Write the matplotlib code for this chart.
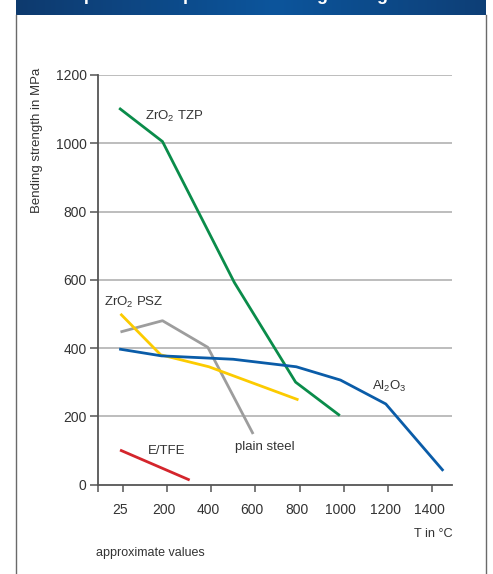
import matplotlib
matplotlib.use("Agg")
import matplotlib.pyplot as plt
import matplotlib.transforms as mtransforms
import numpy as np

plt.rcParams['font.family'] = ['Liberation Sans', 'DejaVu Sans']
plt.rcParams['mathtext.default'] = 'regular'

# ---- data (x in chart position units; the "25" tick sits at position 0) ----
tick_pos = [0, 200, 400, 600, 800, 1000, 1200, 1400]
tick_labels = ["25", "200", "400", "600", "800", "1000", "1200", "1400"]
y_ticks = [0, 200, 400, 600, 800, 1000, 1200]

tzp_x = [-16, 180, 505, 782, 982]
tzp_y = [1103, 1005, 592, 300, 202]

al_x = [-16, 175, 500, 785, 985, 1190, 1450]
al_y = [397, 377, 367, 345, 306, 236, 40]

psz_x = [-10, 172, 390, 795]
psz_y = [500, 380, 345, 248]

steel_x = [-10, 180, 385, 590]
steel_y = [447, 480, 402, 148]

etfe_x = [-12, 303]
etfe_y = [101, 13]

W, H = 493, 574
fig = plt.figure(figsize=(W / 100, H / 100), dpi=100)

# header bar with gradient
hx0, hx1, hh = 16, 486, 15
hax = fig.add_axes([hx0 / W, 1 - hh / H, (hx1 - hx0) / W, hh / H])
grad = np.linspace(0, 1, 256)
c_dark = np.array([0x0e, 0x3a, 0x6e]) / 255
c_light = np.array([0x0c, 0x55, 0x9c]) / 255
w = 1 - np.abs(grad - 0.55) / 0.55
w = np.clip(w, 0, 1)
img = c_dark[None, :] * (1 - w[:, None]) + c_light[None, :] * w[:, None]
hax.imshow(img[None, :, :], aspect='auto', extent=[0, 1, 0, 1])
hax.set_axis_off()
fig.text(48 / W, 1 - 0.5 / H, "Temperature-dependent bending strength", color='white',
         fontsize=13, fontweight='bold', va='baseline', ha='left')

# frame lines
for xp in (hx0, hx1):
    fig.add_artist(plt.Line2D([xp / W, xp / W], [0, 1 - hh / H], color='#6a6a6a', lw=1.0,
                              transform=fig.transFigure))

# main axes
left, right = 97.7, 451.7
top, bottom = 75.0, 484.5
ax = fig.add_axes([left / W, 1 - bottom / H, (right - left) / W, (bottom - top) / H])
ax.set_xlim(-113, 1488)
ax.set_ylim(0, 1200)

for yv in y_ticks[1:]:
    ax.axhline(yv, color='#bdbdbd', lw=1.4, zorder=1)

lw = 2.0
ax.plot(tzp_x, tzp_y, color='#0a8c4a', lw=lw, zorder=3, solid_capstyle='butt')
ax.plot(steel_x, steel_y, color='#9d9d9d', lw=lw, zorder=3, solid_capstyle='butt')
ax.plot(psz_x, psz_y, color='#fccb00', lw=lw, zorder=3, solid_capstyle='butt')
ax.plot(al_x, al_y, color='#0a5ca8', lw=lw, zorder=4, solid_capstyle='butt')
ax.plot(etfe_x, etfe_y, color='#d4252c', lw=lw, zorder=3, solid_capstyle='butt')

tc = '#333333'
fs = 9.5
ax.text(101, 1078, r"ZrO$_2$ TZP", color=tc, fontsize=fs, va='center', ha='left')
ax.text(-85, 533, r"ZrO$_2$ PSZ", color=tc, fontsize=fs, va='center', ha='left')
ax.text(114, 99, "E/TFE", color=tc, fontsize=fs, va='center', ha='left')
ax.text(508, 111, "plain steel", color=tc, fontsize=fs, va='center', ha='left')
ax.text(1127, 287, r"Al$_2$O$_3$", color=tc, fontsize=fs, va='center', ha='left')

for s in ['top', 'right']:
    ax.spines[s].set_visible(False)
for s in ['left', 'bottom']:
    ax.spines[s].set_color('#555555')
    ax.spines[s].set_linewidth(1.3)

ax.set_yticks(y_ticks)
ax.set_yticklabels([str(v) for v in y_ticks])
ax.set_xticks([-113] + tick_pos)
ax.set_xticklabels([""] + tick_labels)
ax.tick_params(axis='y', direction='out', length=6, width=1.1, color='#555555',
               labelsize=10, labelcolor=tc, pad=2)
ax.tick_params(axis='x', direction='out', length=5, width=1.1, color='#555555',
               labelsize=10, labelcolor=tc, pad=8)
offset = mtransforms.ScaledTranslation(-3 / 100, 0, fig.dpi_scale_trans)
for lab in ax.get_xticklabels():
    lab.set_transform(lab.get_transform() + offset)

fig.text(37 / W, 1 - 140 / H, "Bending strength in MPa", rotation=90, color=tc,
         fontsize=9.5, ha='center', va='center')
fig.text(453 / W, 1 - 534 / H, "T in °C", color=tc, fontsize=9.2, ha='right', va='center')
fig.text(96 / W, 1 - 553 / H, "approximate values", color=tc, fontsize=9, ha='left', va='center')

fig.savefig("out.png", dpi=100)
